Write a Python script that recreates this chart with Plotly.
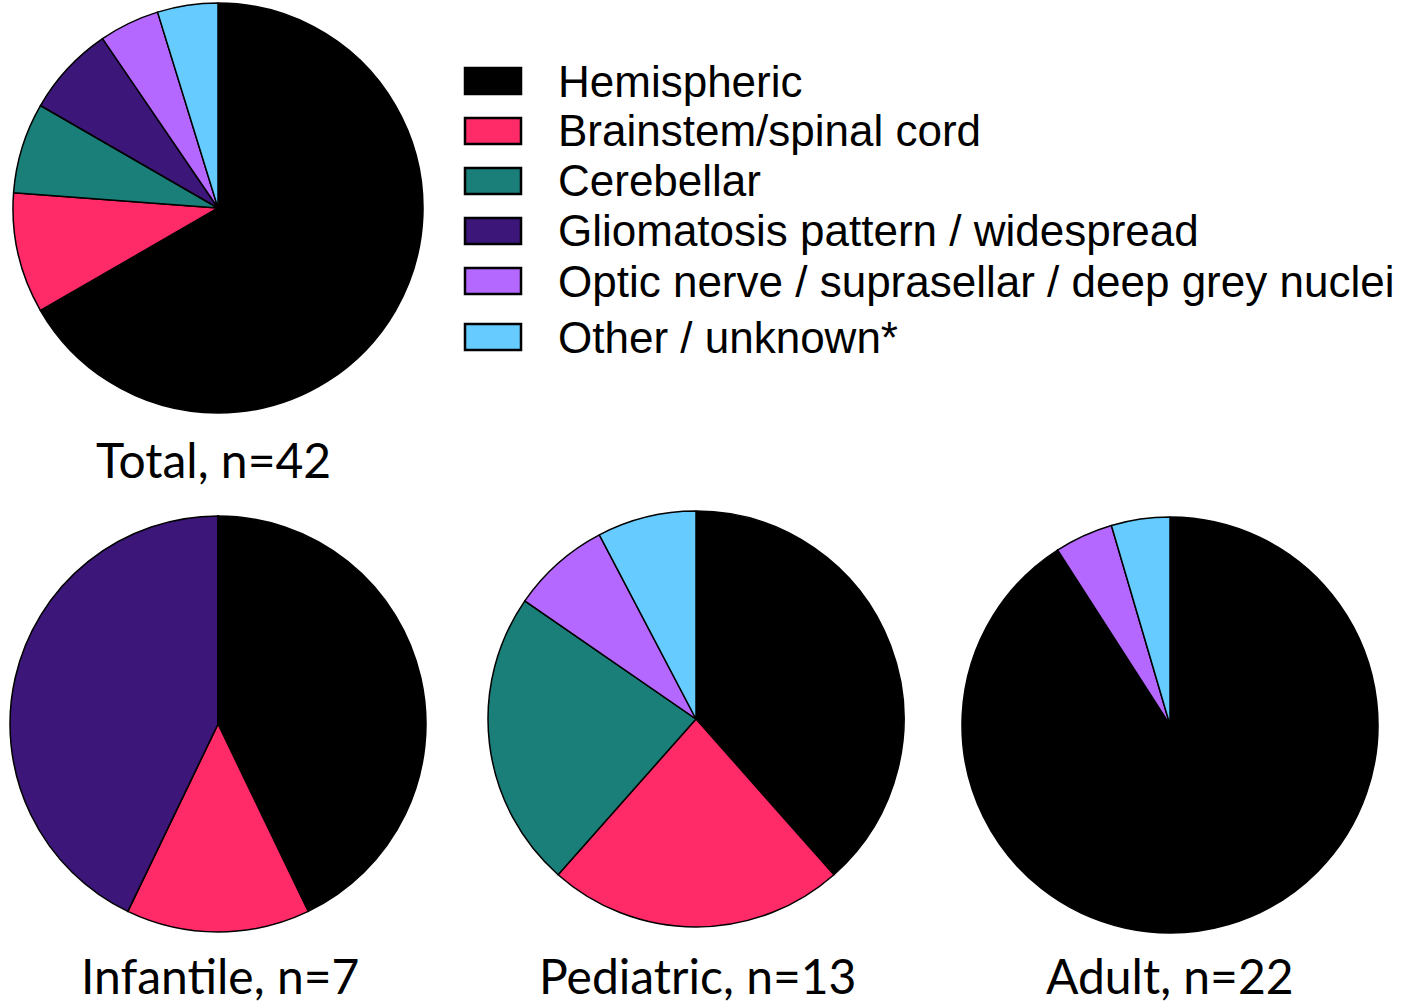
import plotly.graph_objects as go

W, H = 1418, 1007

categories = ["Hemispheric", "Brainstem/spinal cord", "Cerebellar",
              "Gliomatosis pattern / widespread",
              "Optic nerve / suprasellar / deep grey nuclei", "Other / unknown*"]
colors = ["#000000", "#FF2A68", "#1A7E79", "#3D167A", "#B468FF", "#66CCFF"]

total_vals = [28, 4, 3, 3, 2, 2]
infantile_vals = [3, 1, 0, 3, 0, 0]
pediatric_vals = [5, 3, 3, 0, 1, 1]
adult_vals = [20, 0, 0, 0, 1, 1]

group_labels = ["Total, n=42", "Infantile, n=7", "Pediatric, n=13", "Adult, n=22"]
group_values = [total_vals, infantile_vals, pediatric_vals, adult_vals]

# layout (pixel positions of pie centres and label positions)
centers = [(218, 208), (218, 724), (696, 719), (1170, 725)]
radii = [205, 208, 208, 208]
label_pos = [(214, 460), (220, 975), (697, 975), (1170, 975)]

fig = go.Figure()
for vals, (cx, cy), r in zip(group_values, centers, radii):
    fig.add_trace(go.Pie(
        labels=categories, values=vals, sort=False, direction="clockwise",
        rotation=0, textinfo="none", hoverinfo="label+value",
        marker=dict(colors=colors, line=dict(color="black", width=1.5)),
        domain=dict(x=[(cx - r) / W, (cx + r) / W],
                    y=[1 - (cy + r) / H, 1 - (cy - r) / H]),
        showlegend=False,
    ))

annotations = []
for txt, (x, y) in zip(group_labels, label_pos):
    annotations.append(dict(x=x / W, y=1 - y / H, xref="paper", yref="paper",
                            text=txt, showarrow=False, xanchor="center", yanchor="middle",
                            font=dict(family="Lato", size=48, color="black")))

shapes = []
leg_y = [81, 131, 181, 231, 281, 337]
for cat, col, y in zip(categories, colors, leg_y):
    shapes.append(dict(type="rect", xref="paper", yref="paper",
                       x0=465 / W, x1=521 / W, y0=1 - (y + 13) / H, y1=1 - (y - 13) / H,
                       fillcolor=col, line=dict(color="black", width=2.5)))
    annotations.append(dict(x=556 / W, y=1 - y / H, xref="paper", yref="paper",
                            text=cat, showarrow=False, xanchor="left", yanchor="middle",
                            font=dict(family="Liberation Sans", size=44, color="black")))

fig.update_layout(width=W, height=H, margin=dict(l=0, r=0, t=0, b=0),
                  paper_bgcolor="white", plot_bgcolor="white",
                  annotations=annotations, shapes=shapes, showlegend=False)

fig.write_html("out.html", config={"displayModeBar": False},
               post_script="document.body.style.margin='0';")
